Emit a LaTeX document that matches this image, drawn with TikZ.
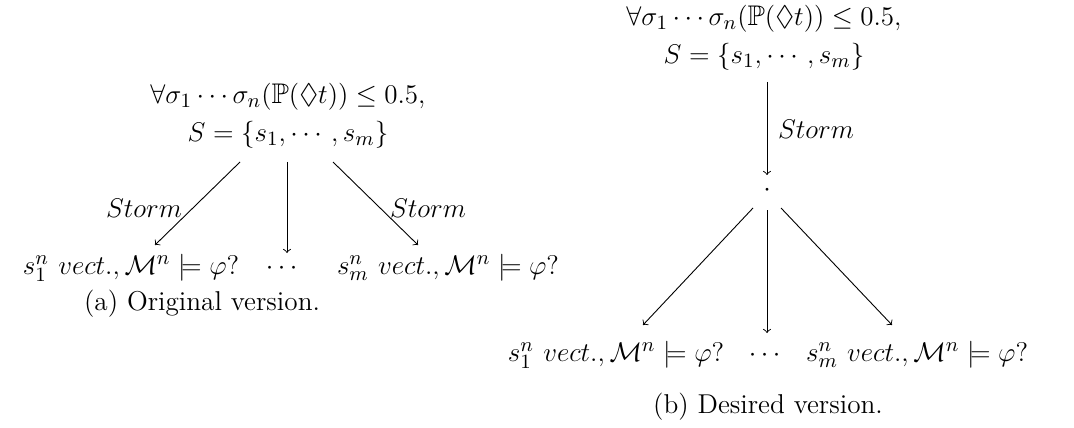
\documentclass[tikz,border=0pt]{standalone}
\usepackage{amsmath,amssymb}
\begin{document}
\begin{tikzpicture}[x=0.444pt,y=-0.444pt,
  lbl/.style={inner sep=0pt,font=\fontsize{12.6}{15}\selectfont},
  captxt/.style={inner sep=0pt,font=\fontsize{12.1}{14}\selectfont},
  arr/.style={->,line width=0.4pt}]
\useasboundingbox (0,0) rectangle (1074,428);
% ---- (a) ----
\node[lbl,align=center] (atop) at (288,116) {$\forall\sigma_1\cdots\sigma_n(\mathbb{P}(\Diamond t))\leq 0.5,$\\[2pt] $S=\{s_1,\cdots,s_m\}$};
\coordinate (aL0) at (240,162);
\coordinate (aM0) at (287,162);
\coordinate (aR0) at (333,162);
\node[lbl,anchor=base] (aleft) at (131,274) {$s^n_1~vect.,\mathcal{M}^n\models\varphi?$};
\node[lbl,anchor=base] (adots) at (284,274) {$\cdots$};
\node[lbl,anchor=base] (aright) at (448,274) {$s^n_m~vect.,\mathcal{M}^n\models\varphi?$};
\coordinate (aL1) at (155,245);
\coordinate (aM1) at (287,253);
\coordinate (aR1) at (418,245);
\draw[arr] (aL0) -- (aL1);
\draw[arr] (aM0) -- (aM1);
\draw[arr] (aR0) -- (aR1);
\node[lbl] (aS1) at (144,208) {$Storm$};
\node[lbl] (aS2) at (428,208) {$Storm$};
\node[captxt] (acap) at (202,304) {(a) Original version.};
% ---- (b) ----
\node[lbl,align=center] (btop) at (764,38) {$\forall\sigma_1\cdots\sigma_n(\mathbb{P}(\Diamond t))\leq 0.5,$\\[2pt] $S=\{s_1,\cdots,s_m\}$};
\coordinate (b0) at (767,82);
\coordinate (b1) at (767,175);
\node[lbl] (bdot) at (767,190) {$\cdot$};
\draw[arr] (b0) -- (b1);
\node[lbl] (bS) at (816,129) {$Storm$};
\coordinate (bL0) at (753,208);
\coordinate (bM0) at (767,210);
\coordinate (bR0) at (781,208);
\coordinate (bL1) at (643,325);
\coordinate (bM1) at (767,333);
\coordinate (bR1) at (892,325);
\node[lbl,anchor=base] (bleft) at (616,361) {$s^n_1~vect.,\mathcal{M}^n\models\varphi?$};
\node[lbl,anchor=base] (bdots) at (767,361) {$\cdots$};
\node[lbl,anchor=base] (bright) at (917,361) {$s^n_m~vect.,\mathcal{M}^n\models\varphi?$};
\draw[arr] (bL0) -- (bL1);
\draw[arr] (bM0) -- (bM1);
\draw[arr] (bR0) -- (bR1);
\node[captxt] (bcap) at (768,407) {(b) Desired version.};
\end{tikzpicture}
\end{document}
